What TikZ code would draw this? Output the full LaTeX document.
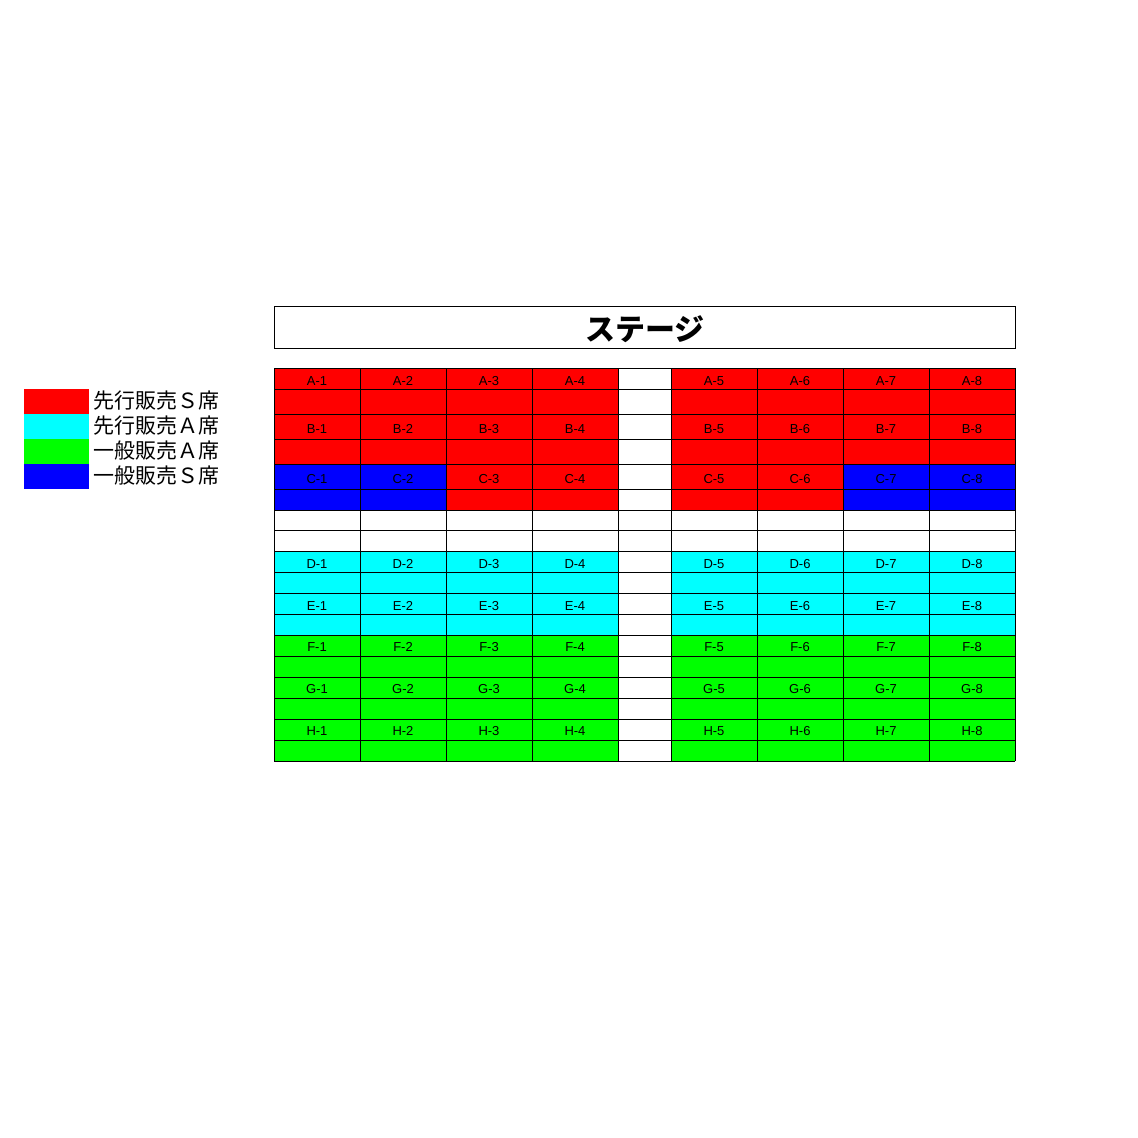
\documentclass[tikz,border=0pt]{standalone}
\usepackage{fontspec}
\setmainfont{Liberation Sans}
\newfontfamily\jp{Noto Sans CJK JP}
\definecolor{seatred}{RGB}{255,0,0}
\definecolor{seatcyan}{RGB}{0,255,255}
\definecolor{seatgreen}{RGB}{0,255,0}
\definecolor{seatblue}{RGB}{0,0,255}
\begin{document}
\begin{tikzpicture}[x=1pt,y=-1pt,
  gridline/.style={black,line width=1pt},
  seatlabel/.style={inner sep=0pt,font=\fontsize{13}{13}\selectfont},
  legendtext/.style={inner sep=0pt,anchor=west,font=\jp\fontsize{21}{21}\selectfont},
  stagetext/.style={inner sep=0pt,font=\jp\bfseries\fontsize{30}{30}\selectfont}]
\useasboundingbox (0,0) rectangle (1138,1138);
\fill[white] (0,0) rectangle (1138,1138);
% stage
\node[draw,line width=1pt,minimum width=741pt,minimum height=42pt,anchor=north west,inner sep=0pt] (stage) at (274,306) {};
\node[stagetext] (stagelabel) at (645,329) {ステージ};
% fills
\fill[seatred] (274,368) rectangle (618,510);
\fill[seatred] (671,368) rectangle (1015,510);
\fill[seatblue] (274,464) rectangle (446,510);
\fill[seatblue] (843,464) rectangle (1015,510);
\fill[seatcyan] (274,551.5) rectangle (618,635);
\fill[seatcyan] (671,551.5) rectangle (1015,635);
\fill[seatgreen] (274,635) rectangle (618,761);
\fill[seatgreen] (671,635) rectangle (1015,761);
% grid lines
\foreach \y in {368,389,414,439,464,489,510,530,551.5,572,593,614,635,656,677,698,719,740,761}
  \draw[gridline] (274,\y) -- (1015,\y);
\foreach \x in {274,360,446,532,618,671,757,843,929,1015}
  \draw[gridline] (\x,368) -- (\x,761);
% labels
\foreach \r/\y in {A/381,B/429,C/479,D/564,E/606,F/647,G/689,H/731}
  \foreach \c/\x in {1/317,2/403,3/489,4/575,5/714,6/800,7/886,8/972}
    \node[seatlabel] (\r\c) at (\x,\y) {\r-\c};
% legend
\fill[seatred] (24,389) rectangle (89,414);
\fill[seatcyan] (24,414) rectangle (89,439);
\fill[seatgreen] (24,439) rectangle (89,464);
\fill[seatblue] (24,464) rectangle (89,489);
\node[legendtext] (leg1) at (93,401) {先行販売Ｓ席};
\node[legendtext] (leg2) at (93,426) {先行販売Ａ席};
\node[legendtext] (leg3) at (93,451) {一般販売Ａ席};
\node[legendtext] (leg4) at (93,476) {一般販売Ｓ席};
\end{tikzpicture}
\end{document}
